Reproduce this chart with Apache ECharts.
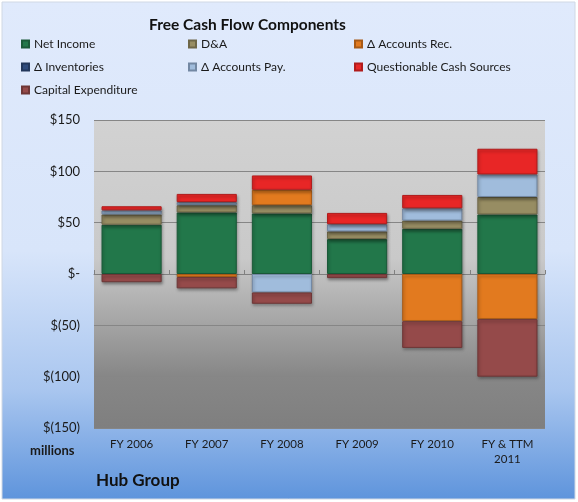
<!DOCTYPE html>
<html>
<head>
<meta charset="utf-8">
<script src="https://cdn.jsdelivr.net/npm/echarts@6/dist/echarts.min.js"></script>
<style>
html,body{margin:0;padding:0;background:#fff;}
#c{width:578px;height:502px;}
</style>
</head>
<body>
<div id="c"></div>
<script>
const categories = ['FY 2006', 'FY 2007', 'FY 2008', 'FY 2009', 'FY 2010', 'FY & TTM\n2011'];
const netIncome = [48, 60, 59, 34, 44, 58];
const depAmort = [10, 7, 8, 7.5, 8, 17];
const accountsRec = [0, -3, 15, 0, -46, -44];
const inventories = [0, 0, 0, 0, 0, 0];
const accountsPay = [4, 3, -18, 7, 12, 22];
const questionable = [4, 8, 14, 11, 13, 25];
const capex = [-8, -11, -11, -4, -26, -56];
const yTicks = [-150, -100, -50, 0, 50, 100, 150];

const chart = echarts.init(document.getElementById('c'));
const FONT = 'Lato, "Open Sans", sans-serif';

function clean(arr){ return arr.map(v => v === 0 ? '-' : v); }

function mk(name, data, color, border){
  return {
    name: name, type: 'bar', stack: 'fcf', data: clean(data),
    xAxisIndex: 0, yAxisIndex: 0,
    barCategoryGap: '20%',
    itemStyle: {
      color: color, borderColor: border, borderWidth: 1,
      shadowBlur: 3, shadowColor: 'rgba(0,0,0,0.35)', shadowOffsetX: 1, shadowOffsetY: 2
    }
  };
}

const series = [
  mk('Net Income', netIncome, '#22774A', '#1a5a38'),
  mk('D&A', depAmort, '#978D63', '#6e6748'),
  mk('Δ Accounts Rec.', accountsRec, '#E27A1F', '#a85a16'),
  mk('Δ Inventories', inventories, '#2F4B7C', '#22375b'),
  mk('Δ Accounts Pay.', accountsPay, '#A0BCDC', '#7388a3'),
  mk('Questionable Cash Sources', questionable, '#E82626', '#b01c1c'),
  mk('Capital Expenditure', capex, '#954A4A', '#6e3636')
];

const legendText = { fontFamily: FONT, fontSize: 12, color: '#1a1a1a' };
function legend(left, data){
  return {
    left: left, top: 38, orient: 'vertical', itemGap: 11,
    itemWidth: 7, itemHeight: 7, icon: 'rect',
    textStyle: legendText, data: data, padding: 0
  };
}

chart.setOption({
  animation: false,
  backgroundColor: '#ffffff',
  graphic: [
    { type: 'rect', z: -10, shape: { x: 2, y: 2, width: 573, height: 497 },
      style: { fill: new echarts.graphic.LinearGradient(0, 0, 0, 1, [
        { offset: 0, color: '#e0eafc' },
        { offset: 0.5, color: '#d8e5fa' },
        { offset: 0.78, color: '#a9c6ef' },
        { offset: 1, color: '#5e94dc' }
      ]), stroke: '#d0d8e4', lineWidth: 1 } },
    { type: 'text', left: 30, top: 444, style: { text: 'millions', font: 'bold 13px ' + FONT, fill: '#1a1a1a' } },
    { type: 'text', left: 96, top: 472, style: { text: 'Hub Group', font: 'bold 17px ' + FONT, fill: '#111111' } }
  ],
  title: {
    text: 'Free Cash Flow Components', left: 149, top: 17, padding: 0,
    textStyle: { fontFamily: FONT, fontSize: 15.5, fontWeight: 'bold', color: '#111' }
  },
  legend: [
    legend(21, ['Net Income', 'Δ Inventories', 'Capital Expenditure']),
    legend(188, ['D&A', 'Δ Accounts Pay.']),
    legend(354, ['Δ Accounts Rec.', 'Questionable Cash Sources'])
  ],
  grid: {
    left: 94, right: 33, top: 120, bottom: 74, show: true, borderWidth: 0,
    backgroundColor: new echarts.graphic.LinearGradient(0, 0, 0, 1, [
      { offset: 0, color: '#d2d2d2' },
      { offset: 0.45, color: '#c9c9c9' },
      { offset: 0.83, color: '#878787' },
      { offset: 1, color: '#7f7f7f' }
    ])
  },
  xAxis: [
    { type: 'category', data: categories, position: 'bottom',
      axisLine: { show: false, onZero: false }, axisTick: { show: false },
      axisLabel: { fontFamily: FONT, fontSize: 11.5, color: '#1a1a1a', margin: 9, lineHeight: 15, interval: 0 } },
    { type: 'category', data: categories, position: 'bottom',
      axisLine: { show: true, onZero: true, lineStyle: { color: '#808080', width: 1 } },
      axisTick: { show: true, inside: true, length: 4, lineStyle: { color: '#808080' } },
      axisLabel: { show: false } }
  ],
  yAxis: {
    type: 'value', min: -150, max: 150, interval: 50,
    axisLine: { show: false }, axisTick: { show: false },
    splitLine: { lineStyle: { color: '#868686', width: 1 } },
    axisLabel: {
      fontFamily: FONT, fontSize: 13, color: '#1a1a1a', margin: 14,
      formatter: v => {
        if (!yTicks.includes(v)) return '';
        if (v === 0) return '$-';
        if (v < 0) return '$(' + Math.abs(v) + ')';
        return '$' + v;
      }
    }
  },
  series: series
});
</script>
</body>
</html>
